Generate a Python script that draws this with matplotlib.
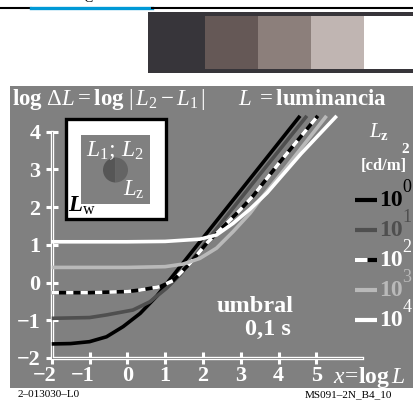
"""Threshold curves log dL vs log L for five surround luminances Lz."""

import matplotlib

matplotlib.use("Agg")
import matplotlib.pyplot as plt
from matplotlib.lines import Line2D
from matplotlib.patches import Rectangle, Wedge
from matplotlib.transforms import ScaledTranslation

W, H = 413, 400

LZ_EXPONENTS = ["0", "1", "2", "3", "4"]
X_LZ1 = [-2, -1.5, -1, -0.55, -0.11, 0.34, 0.78, 1.5, 2.5, 3.5, 4.57]
Y_LZ1 = [-1.63, -1.62, -1.57, -1.44, -1.17, -0.82, -0.36, 0.55, 1.81, 3.07, 4.42]
X_LZ10 = [-2, -1, -0.55, 0.15, 0.6, 1.04, 1.39, 1.8, 2.5, 3.5, 4.75]
Y_LZ10 = [-0.95, -0.93, -0.86, -0.73, -0.51, -0.15, 0.2, 0.71, 1.6, 2.86, 4.42]
X_LZ100 = [-2, -1, 0, 0.34, 0.87, 1.21, 1.66, 2.1, 2.54, 2.98, 3.33, 4.0, 5.04]
Y_LZ100 = [-0.27, -0.27, -0.24, -0.2, -0.11, 0.05, 0.51, 1.04, 1.48, 1.92, 2.3, 3.15, 4.42]
X_LZ1000 = [-2, 0, 1.0, 1.48, 1.92, 2.36, 2.8, 3.25, 3.51, 4.2, 5.27]
Y_LZ1000 = [0.4, 0.4, 0.42, 0.49, 0.64, 0.91, 1.35, 1.84, 2.19, 3.05, 4.42]
X_LZ10000 = [-2, 0, 1.0, 1.92, 2.36, 2.8, 3.25, 3.7, 4.6, 5.54]
Y_LZ10000 = [1.08, 1.08, 1.09, 1.15, 1.26, 1.57, 1.95, 2.38, 3.42, 4.42]

X_TICKS = [-2, -1, 0, 1, 2, 3, 4, 5]
Y_TICKS = [-2, -1, 0, 1, 2, 3, 4]

SWATCH_COLORS = ["#655856", "#8c7f7b", "#c0b5b2", "#ffffff"]

BG = "#808080"
CURVE_COLORS = ["#000000", "#4f4f4f", "#000000", "#b9b9b9", "#ffffff"]
LEGEND_TEXT_COLORS = ["#000000", "#4f4f4f", "#ffffff", "#b9b9b9", "#ffffff"]

plt.rcParams.update({
    "font.family": "Liberation Serif",
    "mathtext.fontset": "custom",
    "mathtext.rm": "Liberation Serif",
    "mathtext.it": "Liberation Serif:italic",
    "mathtext.bf": "Liberation Serif:bold",
    "mathtext.bfit": "Liberation Serif:bold:italic",
})


def fx(px):
    return px / W


def fy(py):
    return 1 - py / H


def ftext(fig, x, y, s, **kw):
    kw.setdefault("color", "white")
    return fig.text(fx(x), fy(y), s, **kw)


def draw_header(fig):
    fig.add_artist(Line2D([0, fx(31)], [fy(7.5)] * 2, color="black", lw=1.5))
    fig.add_artist(Line2D([fx(31), fx(152)], [fy(8)] * 2, color="#0099d6", lw=2.4))
    fig.add_artist(Line2D([fx(152), 1], [fy(7.5)] * 2, color="black", lw=1.5))
    ftext(fig, 88, -1, "C", color="black", fontsize=10, ha="center", va="center")
    fig.add_artist(Rectangle((fx(148), fy(73)), fx(413 - 148), (73 - 12) / H,
                             transform=fig.transFigure, color="#37353a", lw=0))
    for i, c in enumerate(SWATCH_COLORS):
        fig.add_artist(Rectangle((fx(205 + 53 * i), fy(69)), fx(53 if i < 3 else 49), 53 / H,
                                 transform=fig.transFigure, color=c, lw=0))


def draw_inset(fig):
    fig.add_artist(Rectangle((fx(66), fy(219)), fx(100), 100 / H, transform=fig.transFigure,
                             facecolor="white", edgecolor="black", lw=2.4))
    fig.add_artist(Rectangle((fx(81), fy(204)), fx(69), 69 / H, transform=fig.transFigure,
                             facecolor=BG, lw=0))
    # test circle in inches so it stays round; left half a bit darker
    cx, cy, r = 115.5 / 100, (H - 170) / 100, 12.5 / 100
    fig.add_artist(Wedge((cx, cy), r, 90, 270, transform=fig.dpi_scale_trans,
                         color="#565656", lw=0))
    fig.add_artist(Wedge((cx, cy), r, -90, 90, transform=fig.dpi_scale_trans,
                         color="#646464", lw=0))
    ftext(fig, 115, 151, r"$L_1;\,L_2$", fontsize=17, ha="center", va="center")
    ftext(fig, 134, 190, r"$L_\mathrm{z}$", fontsize=16.5, ha="center", va="center")
    ftext(fig, 82, 206, r"$\mathbfit{L}_\mathrm{w}$", color="black", fontsize=16.5,
          ha="center", va="center")


def draw_legend(fig):
    ftext(fig, 379, 131, r"$L_\mathbf{z}$", fontsize=15, ha="center", va="center")
    ftext(fig, 405, 149, "2", fontsize=11, fontweight="bold", ha="center", va="center")
    ftext(fig, 384, 166, "[cd/m]", fontsize=12, fontweight="bold", ha="center", va="center")
    for i, exp in enumerate(LZ_EXPONENTS):
        y = 200 + 30 * i
        if i == 2:
            fig.add_artist(Line2D([fx(355), fx(377)], [fy(y)] * 2, color="black", lw=3,
                                  solid_capstyle="butt"))
            fig.add_artist(Line2D([fx(355), fx(377)], [fy(y)] * 2, color="white", lw=3,
                                  dashes=(3, 2.3, 6, 2), solid_capstyle="butt",
                                  dash_capstyle="butt"))
        else:
            fig.add_artist(Line2D([fx(355), fx(377)], [fy(y)] * 2, color=CURVE_COLORS[i], lw=3,
                                  solid_capstyle="butt"))
        col = LEGEND_TEXT_COLORS[i]
        ftext(fig, 391, y + 1, "10", color=col, fontsize=17, fontweight="bold", ha="center", va="center")
        ftext(fig, 407, y - 13, exp, color=col, fontsize=13, ha="center", va="center")


def main():
    fig = plt.figure(figsize=(W / 100, H / 100), dpi=100)
    fig.patch.set_facecolor("white")
    draw_header(fig)

    ax = fig.add_axes([fx(10), fy(388), fx(403), 302 / H])
    ax.set_facecolor(BG)
    ax.set_xlim((10 - 127.3) / 37.8, (413 - 127.3) / 37.8)
    ax.set_ylim((282.5 - 388) / 37.7, (282.5 - 86) / 37.7)
    for side in ["top", "right"]:
        ax.spines[side].set_visible(False)
    ax.spines["left"].set_position(("data", -2))
    ax.spines["left"].set_bounds(-2, 4)
    ax.spines["bottom"].set_position(("data", -2))
    ax.spines["bottom"].set_bounds(-2, 6.2)
    for side in ["left", "bottom"]:
        ax.spines[side].set_color("white")
        ax.spines[side].set_linewidth(2.4)
    # thin grey line inside the spines gives the double-line axis look
    ax.plot([-2, 6.2], [-2, -2], color=BG, lw=0.6, zorder=3, clip_on=False)
    ax.plot([-2, -2], [-2, 4], color=BG, lw=0.6, zorder=3, clip_on=False)

    ax.set_xticks(X_TICKS)
    ax.set_yticks(Y_TICKS)
    ax.set_xticklabels([str(t).replace("-", "\u2212") for t in X_TICKS])
    ax.set_yticklabels([str(t).replace("-", "\u2212") for t in Y_TICKS])
    ax.tick_params(direction="inout", length=8, width=2.2, color="white", labelcolor="white",
                   labelsize=16)
    ax.tick_params(axis="x", pad=2)
    ax.tick_params(axis="y", pad=4)
    for lab in ax.get_xticklabels() + ax.get_yticklabels():
        lab.set_fontweight("bold")
    for lab in ax.get_xticklabels():
        if lab.get_text().startswith("\u2212"):
            lab.set_ha("right")
            lab.set_transform(lab.get_transform() + ScaledTranslation(5 / 100, 0, fig.dpi_scale_trans))

    xs = [X_LZ1, X_LZ10, X_LZ100, X_LZ1000, X_LZ10000]
    ys = [Y_LZ1, Y_LZ10, Y_LZ100, Y_LZ1000, Y_LZ10000]
    for i, (x, y) in enumerate(zip(xs, ys)):
        ax.plot(x, y, color=CURVE_COLORS[i], lw=2.6, solid_capstyle="butt", zorder=4 + i)
        if i == 2:
            ax.plot(x, y, color="white", lw=2.6, dashes=(2, 2), dash_capstyle="butt", zorder=4 + i)

    ftext(fig, 12, 100,
          r"$\mathbf{log}\ \Delta L = \mathbf{log}\ |\,L_2 - L_1\,|\qquad L\ = \mathbf{luminancia}$",
          fontsize=16.5, ha="left", va="center")
    ftext(fig, 333, 377, r"$x\!=\!\mathbf{log}\,L$", fontsize=17, ha="left", va="center")
    ftext(fig, 255, 307, "umbral", fontsize=17.5, fontweight="bold", ha="center", va="center")
    ftext(fig, 268, 329, "0,1 s", fontsize=17.5, fontweight="bold", ha="center", va="center")

    draw_inset(fig)
    draw_legend(fig)

    ftext(fig, 18, 397, "2\u2013013030\u2013L0", color="black", fontsize=8, ha="left", va="baseline")
    ftext(fig, 392, 397, "MS091\u20132N_B4_10", color="black", fontsize=8, ha="right", va="baseline")

    fig.savefig("out.png", dpi=100, facecolor="white")


if __name__ == "__main__":
    main()
